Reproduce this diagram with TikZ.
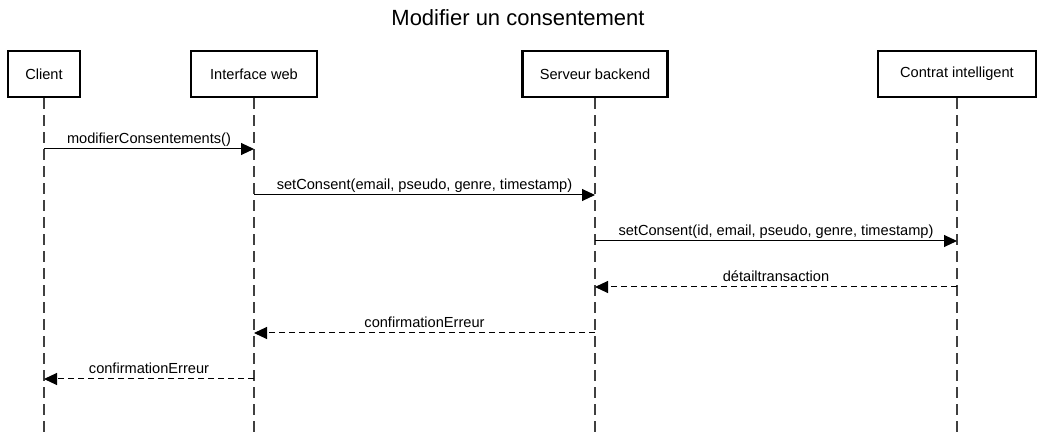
\documentclass[tikz,border=0pt]{standalone}
\usepackage{fontspec}
\setmainfont{Liberation Sans}
\usetikzlibrary{arrows.meta}
\tikzset{
	actor/.style={draw, line width=2.6pt, fill=white, minimum height=46pt, inner sep=0pt, font=\fontsize{14.6}{17}\selectfont},
	lifeline/.style={draw=black!75, line width=1.4pt, dash pattern=on 11pt off 6pt},
	msg/.style={line width=1pt, -{Triangle[length=13pt, width=12pt]}},
	reply/.style={msg, dash pattern=on 6pt off 4pt},
	msglabel/.style={above, inner sep=1.5pt, text height=11pt, text depth=3pt, font=\fontsize{14.6}{17}\selectfont}
}

\begin{document}
\begin{tikzpicture}[x=1pt, y=-1pt]
		%%%%% START %%%%%
		\useasboundingbox (0, 0) rectangle (1037, 435);
		
		\node[font=\fontsize{22}{26}\selectfont] (title) at (518, 18) {Modifier un consentement};
		
		\node[actor, minimum width=72pt] (client) at (44, 74) {Client};
		\node[actor, minimum width=126pt] (web) at (254, 74) {Interface web};
		\node[actor, minimum width=145pt] (serveur) at (595, 74) {Serveur backend};
		\node[actor, minimum width=158pt] (contrat) at (957, 74) {Contrat intelligent};
		
		\coordinate (bas) at (0, 435);
		\draw[lifeline] (client.south) -- (client |- bas);
		\draw[lifeline] (web.south) -- (web |- bas);
		\draw[lifeline] (serveur.south) -- (serveur |- bas);
		\draw[lifeline] (contrat.south) -- (contrat |- bas);
		
		\coordinate (r1) at (0, 149);
		\coordinate (r2) at (0, 195);
		\coordinate (r3) at (0, 241);
		\coordinate (r4) at (0, 287);
		\coordinate (r5) at (0, 333);
		\coordinate (r6) at (0, 379);
		
		\draw[msg] (client |- r1) -- node[msglabel] {modifierConsentements()} (web |- r1);
		\draw[msg] (web |- r2) -- node[msglabel] {setConsent(email, pseudo, genre, timestamp)} (serveur |- r2);
		\draw[msg] (serveur |- r3) -- node[msglabel] {setConsent(id, email, pseudo, genre, timestamp)} (contrat |- r3);
		\draw[reply] (contrat |- r4) -- node[msglabel] {détailtransaction} (serveur |- r4);
		\draw[reply] (serveur |- r5) -- node[msglabel] {confirmationErreur} (web |- r5);
		\draw[reply] (web |- r6) -- node[msglabel] {confirmationErreur} (client |- r6);
		%%%%% END %%%%%
	\end{tikzpicture}
\end{document}
